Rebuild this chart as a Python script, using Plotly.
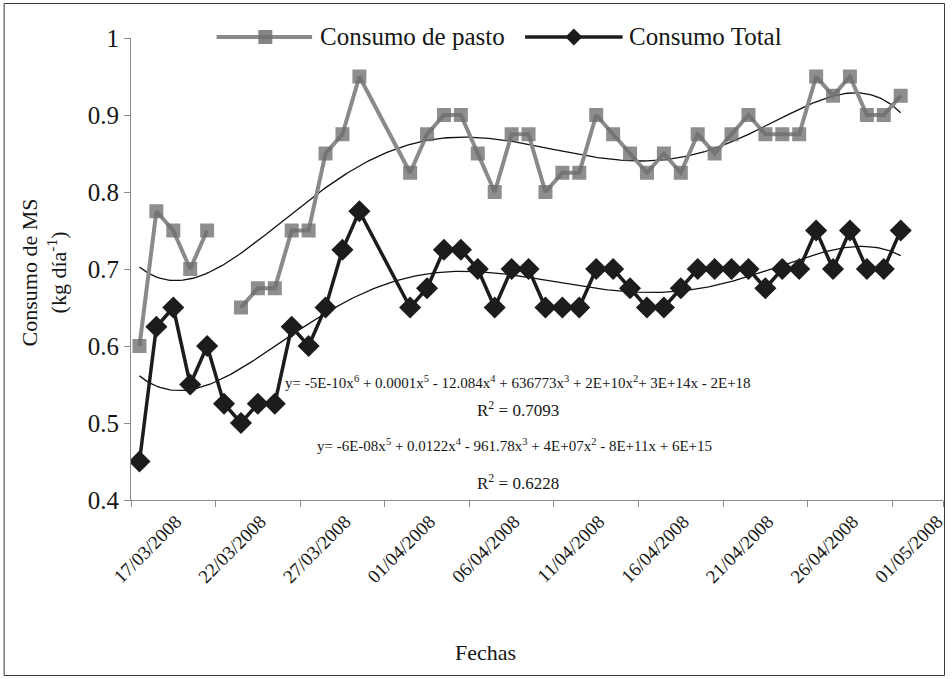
import numpy as np
import pandas as pd
import plotly.graph_objects as go

# Daily dry-matter intake (kg/day), 17/03/2008 - 01/05/2008 (31/03 and 01/04 not sampled)
fechas = [
    "2008-03-17", "2008-03-18", "2008-03-19", "2008-03-20", "2008-03-21", "2008-03-22",
    "2008-03-23", "2008-03-24", "2008-03-25", "2008-03-26", "2008-03-27", "2008-03-28",
    "2008-03-29", "2008-03-30", "2008-04-02", "2008-04-03", "2008-04-04", "2008-04-05",
    "2008-04-06", "2008-04-07", "2008-04-08", "2008-04-09", "2008-04-10", "2008-04-11",
    "2008-04-12", "2008-04-13", "2008-04-14", "2008-04-15", "2008-04-16", "2008-04-17",
    "2008-04-18", "2008-04-19", "2008-04-20", "2008-04-21", "2008-04-22", "2008-04-23",
    "2008-04-24", "2008-04-25", "2008-04-26", "2008-04-27", "2008-04-28", "2008-04-29",
    "2008-04-30", "2008-05-01",
]

consumo_pasto = [
    0.600, 0.775, 0.750, 0.700, 0.750, None,
    0.650, 0.675, 0.675, 0.750, 0.750, 0.850,
    0.875, 0.950, 0.825, 0.875, 0.900, 0.900,
    0.850, 0.800, 0.875, 0.875, 0.800, 0.825,
    0.825, 0.900, 0.875, 0.850, 0.825, 0.850,
    0.825, 0.875, 0.850, 0.875, 0.900, 0.875,
    0.875, 0.875, 0.950, 0.925, 0.950, 0.900,
    0.900, 0.925,
]

consumo_total = [
    0.450, 0.625, 0.650, 0.550, 0.600, 0.525,
    0.500, 0.525, 0.525, 0.625, 0.600, 0.650,
    0.725, 0.775, 0.650, 0.675, 0.725, 0.725,
    0.700, 0.650, 0.700, 0.700, 0.650, 0.650,
    0.650, 0.700, 0.700, 0.675, 0.650, 0.650,
    0.675, 0.700, 0.700, 0.700, 0.700, 0.675,
    0.700, 0.700, 0.750, 0.700, 0.750, 0.700,
    0.700, 0.750,
]

tick_labels = [
    "17/03/2008", "22/03/2008", "27/03/2008", "01/04/2008", "06/04/2008",
    "11/04/2008", "16/04/2008", "21/04/2008", "26/04/2008", "01/05/2008",
]

eq_pasto = ("y= -5E-10x<sup>6</sup> + 0.0001x<sup>5</sup> - 12.084x<sup>4</sup> + 636773x<sup>3</sup>"
            " + 2E+10x<sup>2</sup>+ 3E+14x - 2E+18")
r2_pasto = "R<sup>2</sup> = 0.7093"
eq_total = ("y= -6E-08x<sup>5</sup> + 0.0122x<sup>4</sup> - 961.78x<sup>3</sup>"
            " + 4E+07x<sup>2</sup> - 8E+11x + 6E+15")
r2_total = "R<sup>2</sup> = 0.6228"

SERIF = "Liberation Serif"
INK = "#161616"
GRAY = "#8a8a8a"
BLACK = "#1c1c1c"


def f(size):
    return dict(family=SERIF, size=size, color=INK)


x = pd.to_datetime(fechas)
day = (x - x[0]).days.to_numpy(dtype=float)


def poly_trend(values, degree):
    v = np.array([np.nan if a is None else a for a in values], dtype=float)
    ok = ~np.isnan(v)
    coef = np.polyfit(day[ok], v[ok], degree)
    xs = np.linspace(day[ok].min(), day[ok].max(), 300)
    return x[0] + pd.to_timedelta(xs, unit="D"), np.polyval(coef, xs)


tx_p, ty_p = poly_trend(consumo_pasto, 6)
tx_t, ty_t = poly_trend(consumo_total, 5)

fig = go.Figure()
fig.add_trace(go.Scatter(x=tx_p, y=ty_p, mode="lines", line=dict(color="#111", width=1.3),
                         showlegend=False, hoverinfo="skip"))
fig.add_trace(go.Scatter(x=tx_t, y=ty_t, mode="lines", line=dict(color="#111", width=1.3),
                         showlegend=False, hoverinfo="skip"))
fig.add_trace(go.Scatter(
    x=x, y=consumo_pasto, mode="lines+markers", name="Consumo de pasto",
    connectgaps=False, line=dict(color=GRAY, width=4),
    marker=dict(symbol="square", size=14, color="rgba(110,110,110,0.78)", line=dict(width=0)),
    showlegend=False))
fig.add_trace(go.Scatter(
    x=x, y=consumo_total, mode="lines+markers", name="Consumo Total",
    line=dict(color=BLACK, width=3.5),
    marker=dict(symbol="diamond", size=17, color=BLACK, line=dict(width=0)),
    showlegend=False))

# axis geometry: one day per 17 px, ticks on the day boundaries
half_day = pd.Timedelta(hours=12)
tick_dates = pd.to_datetime(tick_labels, dayfirst=True) - half_day
x_end = x[-1] + pd.Timedelta(days=3) - half_day
tickvals = list(tick_dates) + [x_end]
ticktext = tick_labels + [""]

L, R, T, B = 131, 5, 38, 179
W, H = 952, 679
pw, ph = W - L - R, H - T - B


def px(xp):
    return (xp - L) / pw


def py(yp):
    return (H - B - yp) / ph


shapes = [
    dict(type="rect", xref="paper", yref="paper", x0=px(3.5), x1=px(948.5), y0=py(675.5), y1=py(3.5),
         line=dict(color="#3a3a3a", width=1), layer="below"),
    # legend samples
    dict(type="line", xref="paper", yref="paper", x0=px(217), x1=px(313), y0=py(37), y1=py(37),
         line=dict(color=GRAY, width=4)),
    dict(type="rect", xref="paper", yref="paper", xsizemode="pixel", ysizemode="pixel",
         xanchor=px(266), yanchor=py(37), x0=-7, x1=7, y0=-7, y1=7,
         fillcolor="rgba(110,110,110,0.85)", line=dict(width=0)),
    dict(type="line", xref="paper", yref="paper", x0=px(527), x1=px(625), y0=py(37), y1=py(37),
         line=dict(color=BLACK, width=3.5)),
    dict(type="path", xref="paper", yref="paper", xsizemode="pixel", ysizemode="pixel",
         xanchor=px(576), yanchor=py(37), path="M -8.5 0 L 0 8.5 L 8.5 0 L 0 -8.5 Z",
         fillcolor=BLACK, line=dict(width=0)),
]


def note(text, xp, yp, size, **kw):
    d = dict(text=text, x=px(xp), y=py(yp), xref="paper", yref="paper", showarrow=False,
             xanchor="center", yanchor="middle", font=f(size))
    d.update(kw)
    return d


annotations = [
    note("Consumo de pasto", 319, 37, 25, xanchor="left"),
    note("Consumo Total", 629, 37, 25, xanchor="left"),
    note(eq_pasto, 520, 382, 15),
    note(r2_pasto, 520, 409, 17),
    note(eq_total, 516, 445, 15),
    note(r2_total, 520, 482, 17),
    note("Consumo de MS<br>(kg día<sup>-1</sup>)", 44, 272, 22, textangle=-90),
    note("Fechas", 487, 652, 22),
]

fig.update_layout(
    width=W, height=H, margin=dict(l=L, r=R, t=T, b=B),
    paper_bgcolor="white", plot_bgcolor="white",
    font=f(20),
    shapes=shapes, annotations=annotations, showlegend=False,
    xaxis=dict(type="date", range=[x[0] - half_day, x_end], tickmode="array",
               tickvals=tickvals, ticktext=ticktext, tickangle=-45, ticklabelshift=45,
               ticklabelstandoff=-4,
               showgrid=False, zeroline=False, showline=True, linecolor="#8c8c8c", linewidth=1,
               ticks="outside", ticklen=6, tickcolor="#8c8c8c", tickfont=f(19)),
    yaxis=dict(range=[0.4, 1.0], dtick=0.1, tick0=0.4, showgrid=False, zeroline=False,
               showline=True, linecolor="#8c8c8c", linewidth=1, ticks="outside", ticklen=6,
               tickcolor="#8c8c8c", tickfont=f(25)),
)

fig.write_html("out.html")
